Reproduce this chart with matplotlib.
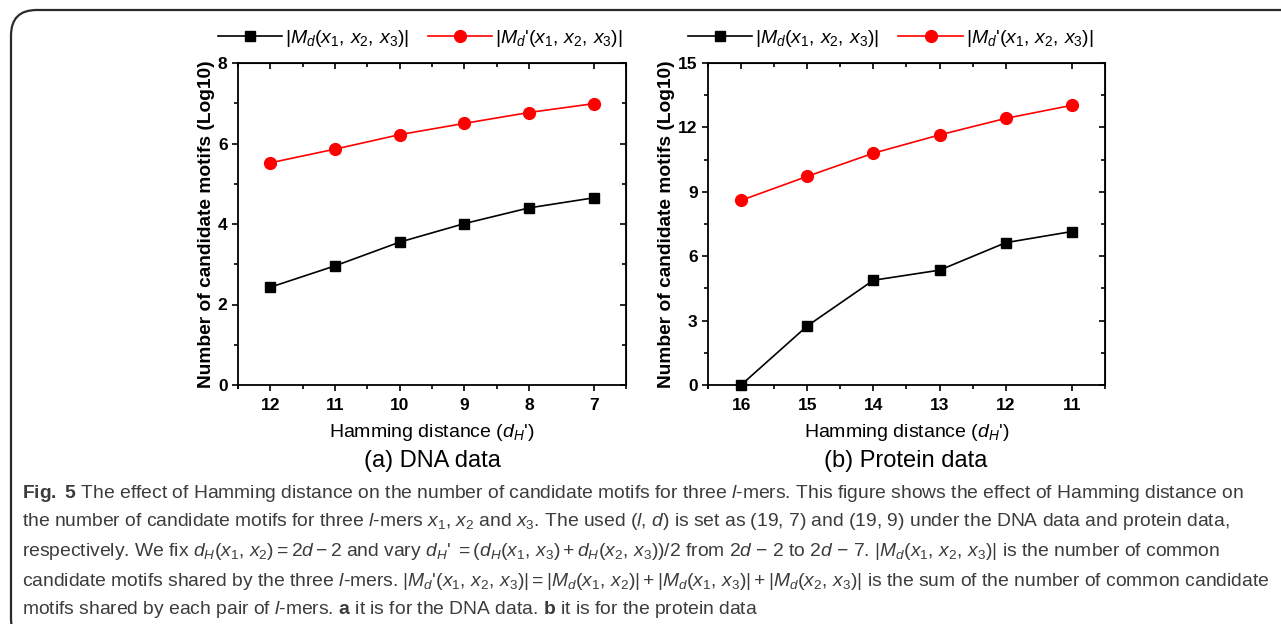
import matplotlib
matplotlib.use("Agg")
import matplotlib.pyplot as plt
from matplotlib.patches import FancyBboxPatch

plt.rcParams['font.family'] = ['Liberation Sans', 'DejaVu Sans']
plt.rcParams['mathtext.fontset'] = 'custom'
plt.rcParams['mathtext.rm'] = 'Liberation Sans'
plt.rcParams['mathtext.it'] = 'Liberation Sans:italic'
plt.rcParams['mathtext.bf'] = 'Liberation Sans:bold'

# (a) DNA data
dna_dist = [12, 11, 10, 9, 8, 7]
dna_md = [2.43, 2.96, 3.55, 4.01, 4.40, 4.65]
dna_md_pair = [5.52, 5.86, 6.22, 6.50, 6.77, 6.99]

# (b) Protein data
prot_dist = [16, 15, 14, 13, 12, 11]
prot_md = [0.0, 2.75, 4.88, 5.35, 6.63, 7.15]
prot_md_pair = [8.60, 9.72, 10.80, 11.65, 12.42, 13.03]

label_md = r'$|M_d(x_1,\,x_2,\,x_3)|$'
label_md_pair = r"$|M_d$'$(x_1,\,x_2,\,x_3)|$"

caption_lines = [
    r"$\mathbf{Fig.}$ $\mathbf{5}$ The effect of Hamming distance on the number of candidate motifs for three $l$-mers. "
    r"This figure shows the effect of Hamming distance on",
    r"the number of candidate motifs for three $l$-mers $x_1$, $x_2$ and $x_3$. The used ($l$, $d$) is set as "
    r"(19, 7) and (19, 9) under the DNA data and protein data,",
    r"respectively. We fix $d_H(x_1,\,x_2) = 2d - 2$ and vary $d_H$'$\ = (d_H(x_1,\,x_3) + d_H(x_2,\,x_3))/2$ "
    r"from 2$d$ − 2 to 2$d$ − 7. $|M_d(x_1,\,x_2,\,x_3)|$ is the number of common",
    r"candidate motifs shared by the three $l$-mers. $|M_d$'$(x_1,\,x_2,\,x_3)| = |M_d(x_1,\,x_2)| + "
    r"|M_d(x_1,\,x_3)| + |M_d(x_2,\,x_3)|$ is the sum of the number of common candidate",
    r"motifs shared by each pair of $l$-mers. $\mathbf{a}$ it is for the DNA data. $\mathbf{b}$ it is for the protein data",
]

W, H = 1281, 624
fig = plt.figure(figsize=(W / 100, H / 100), dpi=100)

# rounded caption frame
box = FancyBboxPatch((11 / W, -20 / H), 1.2, (H - 10 + 20) / H, transform=fig.transFigure,
                     boxstyle="round,pad=0,rounding_size=0.02", facecolor='none',
                     edgecolor='#2a2a2a', linewidth=1.6, mutation_aspect=W / H)
fig.patches.append(box)


def setup(ax, xs, xlim, yticks, yminor, ylim, ylab_x):
    ax.set_xlim(*xlim)
    ax.set_ylim(*ylim)
    minor_x = [x + 0.5 for x in xs[:-1]] + [xs[-1] - 0.5, xs[0] + 0.5]
    ax.set_xticks(xs)
    ax.set_xticks(minor_x, minor=True)
    ax.set_yticks(yticks)
    ax.set_yticks(yminor, minor=True)
    for s in ax.spines.values():
        s.set_linewidth(1.3)
    ax.tick_params(which='both', direction='out', width=1.2, labelsize=12.5)
    ax.tick_params(axis='x', pad=5)
    ax.tick_params(axis='y', pad=3)
    ax.tick_params(which='major', length=4.5)
    ax.tick_params(which='minor', length=3)
    for lab in ax.get_xticklabels() + ax.get_yticklabels():
        lab.set_fontweight('bold')
    top = ax.secondary_xaxis('top')
    top.set_xticks(xs)
    top.set_xticks(minor_x, minor=True)
    top.tick_params(which='both', direction='in', labeltop=False, width=1.2)
    top.tick_params(which='major', length=4.5)
    top.tick_params(which='minor', length=3)
    right = ax.secondary_yaxis('right')
    right.set_yticks(yticks)
    right.set_yticks(yminor, minor=True)
    right.tick_params(which='both', direction='in', labelright=False, width=1.2)
    right.tick_params(which='major', length=4.5)
    right.tick_params(which='minor', length=3)
    ax.set_xlabel(r"Hamming distance ($d_H$')", fontsize=14, labelpad=6)
    ax.set_ylabel('Number of candidate motifs (Log10)', fontsize=13.8, fontweight='bold')
    ax.yaxis.set_label_coords(ylab_x, 0.5)


def draw(ax, xs, md, md_pair):
    ax.plot(xs, md, color='black', marker='s', markersize=7.5, linewidth=1.2, label=label_md, clip_on=False)
    ax.plot(xs, md_pair, color='red', marker='o', markersize=8.5, linewidth=1.2, label=label_md_pair,
            clip_on=False)


ax1 = fig.add_axes([238 / W, 1 - 385 / H, 388 / W, 322 / H])
draw(ax1, dna_dist, dna_md, dna_md_pair)
setup(ax1, dna_dist, (12.5, 6.5), [0, 2, 4, 6, 8], [1, 3, 5, 7], (0, 8), -0.058)
ax1.legend(loc='lower center', bbox_to_anchor=(0.47, 1.02), ncol=2, frameon=False, fontsize=14,
           handlelength=3.3, handletextpad=0.15, columnspacing=1.0, borderaxespad=0)

ax2 = fig.add_axes([708 / W, 1 - 385 / H, 397 / W, 322 / H])
draw(ax2, prot_dist, prot_md, prot_md_pair)
setup(ax2, prot_dist, (16.5, 10.5), [0, 3, 6, 9, 12, 15], [1.5, 4.5, 7.5, 10.5, 13.5], (0, 15), -0.082)
ax2.legend(loc='lower center', bbox_to_anchor=(0.46, 1.02), ncol=2, frameon=False, fontsize=14,
           handlelength=3.3, handletextpad=0.15, columnspacing=1.0, borderaxespad=0)

fig.text(432 / W, 1 - 461 / H, '(a) DNA data', fontsize=17, ha='center', va='center')
fig.text(906 / W, 1 - 461 / H, '(b) Protein data', fontsize=17, ha='center', va='center')

line_y = [493, 522, 552, 582, 610]
cap_texts = []
for y, line in zip(line_y, caption_lines):
    t = fig.text(22 / W, 1 - y / H, line, fontsize=14.5, color='#3c3c3c', ha='left', va='center',
                 family=['Liberation Sans Narrow', 'Liberation Sans', 'DejaVu Sans'])
    cap_texts.append(t)

# shrink the caption font so the longest line fits inside the frame
fig.canvas.draw()
renderer = fig.canvas.get_renderer()
widest = max(t.get_window_extent(renderer).width for t in cap_texts)
size = 14.5 * min(1.0, 1248 / widest)
for t in cap_texts:
    t.set_fontsize(size)

fig.savefig('out.png', dpi=100)
